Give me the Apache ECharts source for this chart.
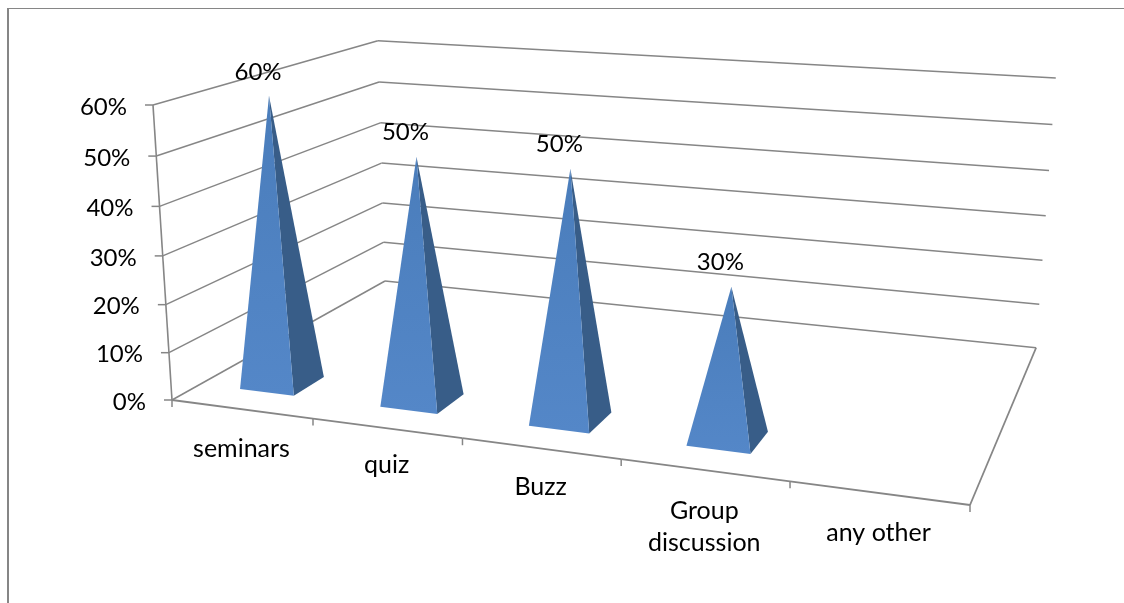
<!DOCTYPE html>
<html><head><meta charset="utf-8">
<style>html,body{margin:0;padding:0;background:#fff}#c{width:1124px;height:603px}</style>
<script src="https://cdn.jsdelivr.net/npm/echarts@6/dist/echarts.min.js"></script>
</head><body><div id="c"></div>
<script>
const categories = ['seminars','quiz','Buzz','Group\ndiscussion','any other'];
const values = [0.6,0.5,0.5,0.3,null];
const valueTicks = [0,0.1,0.2,0.3,0.4,0.5,0.6];

// perspective box: front-left-bottom, front-right-bottom, back-left-bottom, front-left-top and weights
const O=[172,400], X=[970,505], Y=[385,281], Z=[153,105];
const wx=0.8585, wy=1.24, wz=0.955;
function project(u,v,h){
  const D=1+u*(wx-1)+v*(wy-1)+h*(wz-1);
  const f=k=>(O[k]+u*(wx*X[k]-O[k])+v*(wy*Y[k]-O[k])+h*(wz*Z[k]-O[k]))/D;
  return [f(0),f(1)];
}
const GRAY='#868686';
const FONT='Lato, Carlito, sans-serif';
function txt(x,y,s,align,size){
  return {type:'text',silent:true,style:{x,y,text:s,fill:'#000',font:(size||25)+'px '+FONT,align:align||'center',verticalAlign:'middle',lineHeight:32}};
}
function seg(a,b,w){
  return {type:'line',silent:true,shape:{x1:a[0],y1:a[1],x2:b[0],y2:b[1]},style:{stroke:GRAY,lineWidth:w||1.5}};
}
function norm(api,params,cat,val){
  const p=api.coord([cat,val]);
  const r=params.coordSys;
  return {u:(p[0]-r.x)/r.width,h:1-(p[1]-r.y)/r.height};
}
// value grid lines on the two walls, and value tick labels
function renderWalls(params,api){
  const val=api.value(0);
  const r=params.coordSys;
  const h=1-(api.coord([0,val])[1]-r.y)/r.height;
  const a=project(0,0,h), b=project(0,1,h), c=project(1,1,h);
  const kids=[seg(a,b),seg(b,c),seg([a[0]-8,a[1]],a),
    txt(a[0]-26,a[1]+2,Math.round(val*100)+'%','right',24)];
  if(val===0) kids.push(seg(project(0,0,0),project(0,0,1),1.6),seg(a,[a[0],a[1]+7]));
  return {type:'group',children:kids};
}
// floor outline, category ticks and labels
const labelDrop=[40,37,38,57,40];
function renderFloor(params,api){
  const i=api.value(0);
  const r=params.coordSys;
  const bw=r.width/categories.length;
  const u1=(api.coord([i,0])[0]+bw/2-r.x)/r.width;
  const u0=u1-1/categories.length;
  const a=project(u0,0,0), b=project(u1,0,0);
  const kids=[seg(a,b,1.8),seg(b,[b[0],b[1]+7])];
  const m=project((u0+u1)/2,0,0);
  kids.push(txt(m[0],m[1]+labelDrop[i],categories[i]));
  if(i===categories.length-1) kids.push(seg(b,project(1,1,0),1.8));
  return {type:'group',children:kids};
}
// pyramids
const halfU=0.039, uShift=-0.003, vFront=0.112, vBack=0.245;
function renderPyramid(params,api){
  const val=api.value(1);
  if(val==null||isNaN(val)) return;
  const n=norm(api,params,api.value(0),val);
  const u=n.u+uShift, vm=(vFront+vBack)/2;
  const fl=project(u-halfU,vFront,0), fr=project(u+halfU,vFront,0), br=project(u+halfU,vBack,0);
  const top=project(u,vm,n.h);
  return {type:'group',children:[
    {type:'polygon',silent:true,shape:{points:[top,fr,br]},style:{fill:'#385d88'}},
    {type:'polygon',silent:true,shape:{points:[top,fl,fr]},style:{fill:{type:'linear',x:0,y:0,x2:0,y2:1,colorStops:[{offset:0,color:'#4a7dbb'},{offset:1,color:'#5487c8'}]}}},
    txt(top[0]-11,top[1]-24,Math.round(val*100)+'%','center',24)
  ]};
}
const chart=echarts.init(document.getElementById('c'),null,{renderer:'canvas'});
chart.setOption({
  animation:false,
  backgroundColor:'#fff',
  graphic:[
    {type:'line',silent:true,shape:{x1:8,y1:8.5,x2:1124,y2:8.5},style:{stroke:GRAY,lineWidth:1.2}},
    {type:'line',silent:true,shape:{x1:8,y1:8,x2:8,y2:603},style:{stroke:GRAY,lineWidth:2}}
  ],
  grid:{left:172,right:154,top:105,bottom:203},
  xAxis:{type:'category',data:categories,show:false},
  yAxis:{type:'value',min:0,max:0.6,interval:0.1,show:false},
  series:[
    {type:'custom',clip:false,silent:true,renderItem:renderWalls,encode:{y:0},data:valueTicks.map(v=>[v])},
    {type:'custom',clip:false,silent:true,renderItem:renderFloor,encode:{x:0},data:categories.map((c,i)=>[i])},
    {type:'custom',clip:false,silent:true,renderItem:renderPyramid,encode:{x:0,y:1},data:values.map((v,i)=>[i,v])}
  ]
});
</script></body></html>
